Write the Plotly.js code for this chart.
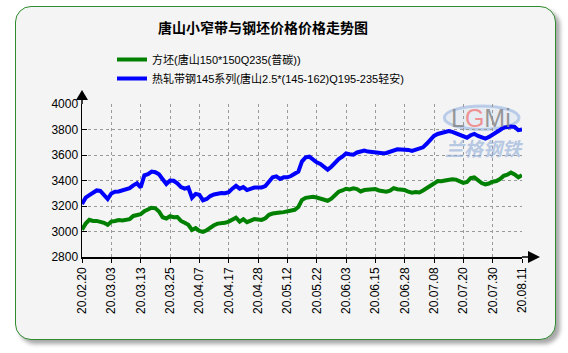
<!DOCTYPE html>
<html>
<head>
<meta charset="utf-8">
<script src="https://cdn.plot.ly/plotly-3.0.1.min.js"></script>
<style>
  html, body { margin:0; padding:0; background:#ffffff; }
  #frame { position:absolute; left:15px; top:6px; width:539px; height:332px;
           border:1px solid #2e8b2e; border-radius:16px; background:#f4f4f4;
           box-shadow:4px 4px 4px rgba(0,0,0,0.35); }
  #chart { position:absolute; left:0; top:0; width:568px; height:353px; }
</style>
</head>
<body>
<div id="frame"></div>
<div id="chart"></div>
<script>
// Tick labels (every 8th trading day)
const tickLabels = ["20.02.20","20.03.03","20.03.13","20.03.25","20.04.07","20.04.17","20.04.28","20.05.12",
                    "20.05.22","20.06.03","20.06.15","20.06.28","20.07.08","20.07.20","20.07.30","20.08.11"];
const tickStep = 8;

const seriesNames = ["方坯(唐山150*150Q235(普碳))", "热轧带钢145系列(唐山2.5*(145-162)Q195-235轻安)"];

// 方坯 price series
const billet = [3015,3062,3092,3083,3083,3076,3068,3052,3078,3083,3090,3086,3094,3097,3122,3131,3136,3160,3176,3186,
                3182,3157,3112,3102,3120,3112,3114,3083,3068,3052,3012,3026,3005,2997,3010,3031,3049,3062,3062,3068,
                3078,3097,3108,3078,3097,3073,3089,3097,3094,3091,3104,3131,3141,3149,3149,3152,3157,3166,3170,3192,
                3248,3264,3270,3272,3267,3259,3249,3241,3257,3285,3312,3322,3335,3330,3338,3333,3314,3325,3327,3330,
                3333,3322,3314,3312,3320,3340,3332,3327,3325,3312,3305,3310,3306,3322,3338,3360,3376,3396,3394,3400,
                3405,3410,3407,3396,3382,3388,3418,3424,3400,3380,3370,3376,3390,3396,3412,3436,3445,3462,3448,3425,3442];

// 热轧带钢 price series
const strip = [3215,3265,3285,3300,3322,3318,3290,3255,3298,3312,3314,3322,3330,3340,3362,3378,3345,3440,3450,3470,
               3465,3448,3410,3372,3400,3398,3378,3348,3336,3345,3265,3295,3288,3245,3255,3278,3290,3298,3302,3300,
               3308,3336,3358,3336,3348,3325,3336,3345,3346,3346,3356,3392,3425,3432,3412,3425,3425,3435,3450,3470,
               3550,3582,3587,3562,3543,3530,3510,3485,3508,3543,3568,3587,3612,3606,3603,3620,3628,3635,3627,3622,
               3616,3614,3614,3616,3624,3640,3645,3643,3643,3640,3632,3640,3652,3660,3688,3722,3750,3765,3775,3782,
               3788,3782,3772,3760,3748,3736,3755,3766,3750,3736,3728,3742,3758,3776,3796,3815,3823,3823,3820,3795,3800];

const yTicks = [2800,3000,3200,3400,3600,3800,4000];

const idx = billet.map((_, i) => i);
const tickVals = tickLabels.map((_, k) => k * tickStep);

const font = "Liberation Sans, Arial, 'Noto Sans CJK SC', sans-serif";

const traces = [
  { x: idx, y: billet, name: seriesNames[0], type: 'scatter', mode: 'lines',
    line: { color: '#008000', width: 4 } },
  { x: idx, y: strip, name: seriesNames[1], type: 'scatter', mode: 'lines',
    line: { color: '#0000ff', width: 4 } }
];

const layout = {
  width: 568, height: 353,
  paper_bgcolor: 'rgba(0,0,0,0)', plot_bgcolor: 'rgba(0,0,0,0)',
  margin: { l: 82, r: 46, t: 104, b: 96 },
  title: { text: '<b>唐山小窄带与钢坯价格价格走势图</b>', x: 263/568, xanchor: 'center',
           y: 1 - 28/353, yanchor: 'middle',
           font: { family: "'Noto Sans CJK SC', sans-serif", size: 14, color: '#000' } },
  showlegend: true,
  legend: { x: (112-82)/440, xanchor: 'left', y: 1 + (104-45)/153, yanchor: 'top',
            bgcolor: 'rgba(0,0,0,0)', font: { family: font, size: 11, color: '#000' },
            itemwidth: 30, tracegroupgap: 0 },
  xaxis: { range: [0, 120], tickvals: tickVals, ticktext: tickLabels, tickangle: -90,
           showline: true, linecolor: '#000', linewidth: 1.5,
           ticks: 'outside', ticklen: 4, tickcolor: '#000',
           showgrid: true, gridcolor: '#9a9a9a', griddash: 'dot', gridwidth: 1,
           zeroline: false, fixedrange: true,
           tickfont: { family: font, size: 12, color: '#000' } },
  yaxis: { range: [2800, 4000], tickvals: yTicks,
           showline: true, linecolor: '#000', linewidth: 1.5,
           ticks: 'inside', ticklen: 5, tickcolor: '#000',
           showgrid: true, gridcolor: '#9a9a9a', griddash: 'dot', gridwidth: 1,
           zeroline: false, fixedrange: true,
           tickfont: { family: font, size: 12, color: '#000' } },
  shapes: [
    // y axis arrow
    { type: 'line', xref: 'paper', yref: 'paper', xsizemode: 'pixel', ysizemode: 'pixel',
      xanchor: 0, yanchor: 1, x0: 0, x1: 0, y0: 0, y1: 5, line: { color: '#000', width: 1.5 } },
    { type: 'path', xref: 'paper', yref: 'paper', xsizemode: 'pixel', ysizemode: 'pixel',
      xanchor: 0, yanchor: 1, path: 'M -6,4 L 6,4 L 0,14 Z', fillcolor: '#000', line: { width: 0 } },
    // x axis arrow
    { type: 'line', xref: 'paper', yref: 'paper', xsizemode: 'pixel', ysizemode: 'pixel',
      xanchor: 1, yanchor: 0, x0: 0, x1: 7, y0: 0, y1: 0, line: { color: '#000', width: 1.5 } },
    { type: 'path', xref: 'paper', yref: 'paper', xsizemode: 'pixel', ysizemode: 'pixel',
      xanchor: 1, yanchor: 0, path: 'M 6,-6 L 6,6 L 18,0 Z', fillcolor: '#000', line: { width: 0 } },
    // watermark ellipse
    { type: 'circle', xref: 'x', yref: 'y', x0: 98.8, x1: 119.2, y0: 3800, y1: 3985, layer: 'below',
      line: { color: 'rgba(150,180,225,0.6)', width: 3 }, fillcolor: 'rgba(205,220,242,0.35)' }
  ],
  annotations: [
    { xref: 'x', yref: 'y', x: 108.8, y: 3893, showarrow: false,
      text: '<span style="color:rgba(135,135,135,0.85)">L</span><span style="color:rgba(240,130,130,0.85)">G</span><span style="color:rgba(135,135,135,0.85)">Mi</span>',
      font: { family: "Liberation Sans, Arial, sans-serif", size: 25 } },
    { xref: 'x', yref: 'y', x: 109.6, y: 3655, showarrow: false, text: '兰格钢铁',
      font: { family: "'Noto Sans CJK SC', sans-serif", size: 19, weight: 'bold', style: 'italic', color: 'rgba(140,170,215,0.6)' } }
  ]
};

Plotly.newPlot('chart', traces, layout, { displayModeBar: false, staticPlot: true });
</script>
</body>
</html>
